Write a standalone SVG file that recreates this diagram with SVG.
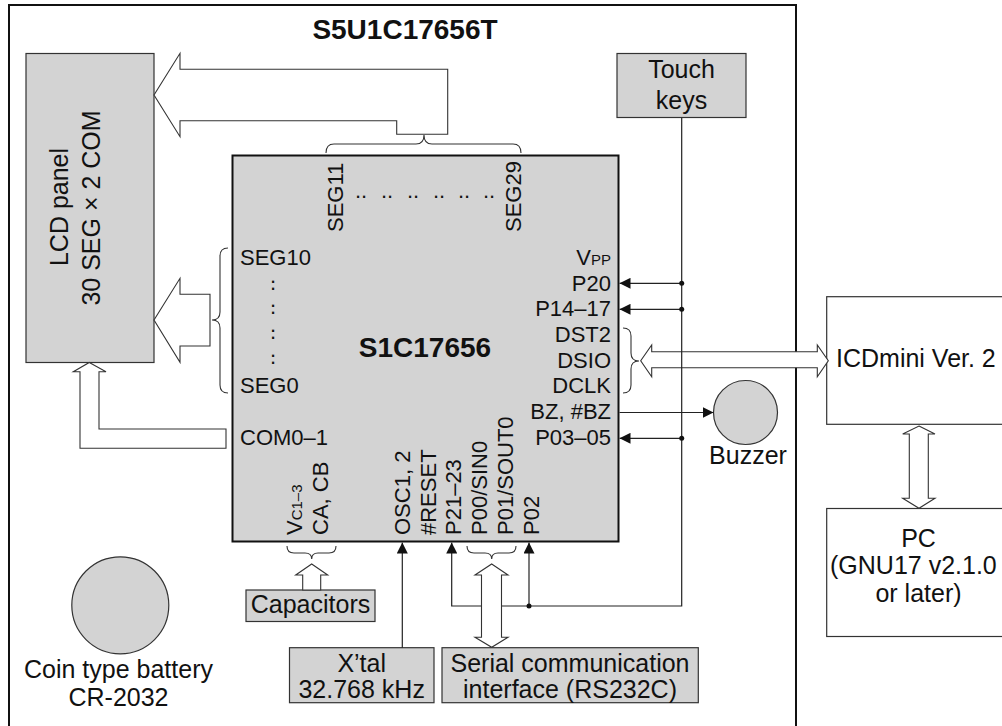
<svg xmlns="http://www.w3.org/2000/svg" width="1002" height="726" viewBox="0 0 1002 726">
<style>
text{font-family:"Liberation Sans",Arial,Helvetica,sans-serif;fill:#111}
.n{font-size:25px}
.p{font-size:22px}
.s{font-size:15px}
.b{font-weight:bold;font-size:28px}
.box{fill:#d3d3d3;stroke:#333;stroke-width:1.2}
.wbox{fill:#fff;stroke:#333;stroke-width:1.2}
.hol{fill:#fff;stroke:#333;stroke-width:1.1;stroke-linejoin:miter}
.ln{fill:none;stroke:#222;stroke-width:1.2}
.br{fill:none;stroke:#333;stroke-width:1.1}
.m{text-anchor:middle}
.e{text-anchor:end}
</style>
<defs>
<marker id="ah" viewBox="0 0 10 10" refX="10" refY="5" markerWidth="11" markerHeight="11" markerUnits="userSpaceOnUse" orient="auto"><path d="M0,0 L10,5 L0,10 z" fill="#111"/></marker>
</defs>
<rect x="0" y="0" width="1002" height="726" fill="#fff"/>
<g id="board">
<rect x="9" y="5" width="787" height="726" fill="none" stroke="#111" stroke-width="2"/>
<text class="b m" x="405" y="39">S5U1C17656T</text>
</g>
<g id="lcd">
<rect class="box" x="26" y="53.5" width="128" height="309"/>
<text class="n m" transform="translate(68,207) rotate(-90)">LCD panel</text>
<text class="n m" transform="translate(100,208) rotate(-90)">30 SEG × 2 COM</text>
</g>
<g id="chip">
<rect x="232.5" y="155.5" width="386" height="386" fill="#d3d3d3" stroke="#111" stroke-width="2"/>
<text class="b m" x="425" y="357">S1C17656</text>
<text class="p" transform="translate(343,232) rotate(-90)">SEG11</text>
<text class="p" transform="translate(521,232) rotate(-90)">SEG29</text>
<text class="p" x="355 361 381 387 407 413 433 439 458 464 483 489" y="198">............</text>
<text class="p" x="240" y="265">SEG10</text>
<text class="p" x="270 270 270 270 270 270 270 270" y="283 290 307 314 332 339 357 364">........</text>
<text class="p" x="240" y="393">SEG0</text>
<text class="p" x="240" y="444.5">COM0–1</text>
<text class="p e" x="611" y="265">V<tspan class="s">PP</tspan></text>
<text class="p e" x="611" y="290.5">P20</text>
<text class="p e" x="611" y="316">P14–17</text>
<text class="p e" x="611" y="342">DST2</text>
<text class="p e" x="611" y="367.5">DSIO</text>
<text class="p e" x="611" y="393">DCLK</text>
<text class="p e" x="611" y="419">BZ, #BZ</text>
<text class="p e" x="611" y="444.5">P03–05</text>
<text class="p" transform="translate(301.5,535) rotate(-90)">V<tspan class="s">C1–3</tspan></text>
<text class="p" transform="translate(328,535) rotate(-90)">CA, CB</text>
<text class="p" transform="translate(410,535) rotate(-90)">OSC1, 2</text>
<text class="p" transform="translate(435.7,535) rotate(-90)">#RESET</text>
<text class="p" transform="translate(461.4,535) rotate(-90)">P21–23</text>
<text class="p" transform="translate(487,535) rotate(-90)">P00/SIN0</text>
<text class="p" transform="translate(512.8,535) rotate(-90)">P01/SOUT0</text>
<text class="p" transform="translate(538.5,535) rotate(-90)">P02</text>
</g>
<g id="touch">
<rect class="box" x="617" y="53.5" width="129" height="64"/>
<text class="n m" x="681.5" y="77.5">Touch</text>
<text class="n m" x="681.5" y="108.5">keys</text>
</g>
<g id="buzzer">
<circle cx="745.5" cy="412.5" r="32" fill="#d3d3d3" stroke="#333" stroke-width="1.2"/>
<text class="n m" x="748" y="464">Buzzer</text>
</g>
<g id="icdmini">
<rect class="wbox" x="826.7" y="296.7" width="190" height="127.6"/>
<text class="n" x="836" y="367">ICDmini Ver. 2</text>
</g>
<g id="pc">
<rect class="wbox" x="826.7" y="508.5" width="190" height="128"/>
<text class="n m" x="918.5" y="546.5">PC</text>
<text class="n" x="830" y="573.5">(GNU17 v2.1.0</text>
<text class="n m" x="918.5" y="601.5">or later)</text>
</g>
<g id="capacitors">
<rect class="box" x="246" y="590" width="129" height="31.5"/>
<text class="n m" x="310.5" y="613">Capacitors</text>
</g>
<g id="xtal">
<rect class="box" x="289.5" y="647.7" width="144.5" height="55"/>
<text class="n m" x="361.7" y="671.5">X’tal</text>
<text class="n m" x="361.7" y="698.3">32.768 kHz</text>
</g>
<g id="serial">
<rect class="box" x="442" y="647.7" width="256.3" height="55"/>
<text class="n m" x="570" y="671.5">Serial communication</text>
<text class="n m" x="570" y="698.3">interface (RS232C)</text>
</g>
<g id="battery">
<circle cx="120.3" cy="605.3" r="48.5" fill="#d3d3d3" stroke="#333" stroke-width="1.2"/>
<text class="n m" x="118.5" y="678">Coin type battery</text>
<text class="n m" x="118.5" y="706">CR-2032</text>
</g>
<g id="connectors">
<polygon class="hol" points="154,95 180,53.3 180,69.3 447.7,69.3 447.7,134.3 396.7,134.3 396.7,120.7 180,120.7 180,136.7"/>
<path class="br" d="M326,153 C326,147 328,144 334,144 L416,144 C421,144 424,141 424,135 C424,141 427,144 432,144 L513,144 C519,144 521,147 521,153"/>
<polygon class="hol" points="154,320 180,278.3 180,294.3 210,294.3 210,346 180,346 180,362.3"/>
<path class="br" d="M228,248 C222,248 220,251 220,256 L220,312 C220,317 218,320 212,320 C218,320 220,323 220,328 L220,385 C220,390 222,393 228,393"/>
<polygon class="hol" points="89.3,362.5 106,371.7 99,371.7 99,429 226,429 226,448.3 80,448.3 80,371.7 73.3,371.7"/>
<path class="br" d="M623,328 C628,328 631,331 631,336 L631,353 C631,358 633,361 639,361 C633,361 631,364 631,369 L631,385 C631,390 628,393 623,393"/>
<polygon class="hol" points="640.7,360.7 651.7,345 651.7,351.7 817.3,351.7 817.3,345 828.3,360.7 817.3,376.7 817.3,367.7 651.7,367.7 651.7,376.7"/>
<polygon class="hol" points="919,426 935,434 928.3,434 928.3,498.3 935,498.3 919,508.3 902.7,498.3 909.3,498.3 909.3,434 902.7,434"/>
<path class="ln" d="M681.7,117.7 L681.7,606 L451.7,606 L451.7,542.5" marker-end="url(#ah)"/>
<path class="ln" d="M681.7,283.3 L619.5,283.3" marker-end="url(#ah)"/>
<path class="ln" d="M681.7,309.3 L619.5,309.3" marker-end="url(#ah)"/>
<path class="ln" d="M681.7,438.3 L619.5,438.3" marker-end="url(#ah)"/>
<path class="ln" d="M619.5,412.5 L713.5,412.5" marker-end="url(#ah)"/>
<path class="ln" d="M529,606 L529,542.5" marker-end="url(#ah)"/>
<path class="ln" d="M402.3,647.7 L402.3,542.5" marker-end="url(#ah)"/>
<circle cx="681.7" cy="283.3" r="2.5" fill="#111"/>
<circle cx="681.7" cy="309.3" r="2.5" fill="#111"/>
<circle cx="681.7" cy="438.3" r="2.5" fill="#111"/>
<circle cx="529" cy="606" r="2.5" fill="#111"/>
<path class="br" d="M287,546 C287,551 289,553 294,553 L305,553 C309,553 311.7,555 311.7,559 C311.7,555 314,553 318,553 L329,553 C334,553 336,551 336,546"/>
<polygon class="hol" points="311.7,564 327.7,575 320.7,575 320.7,590 302.7,590 302.7,575 295.7,575"/>
<path class="br" d="M467,546 C467,551 469,553 474,553 L485,553 C489,553 491.7,555 491.7,559 C491.7,555 494,553 498,553 L509,553 C514,553 516,551 516,546"/>
<polygon class="hol" points="491.7,564 508,575 501.5,575 501.5,637.3 508,637.3 491.7,647.3 475,637.3 481.5,637.3 481.5,575 475,575"/>
</g>
</svg>
